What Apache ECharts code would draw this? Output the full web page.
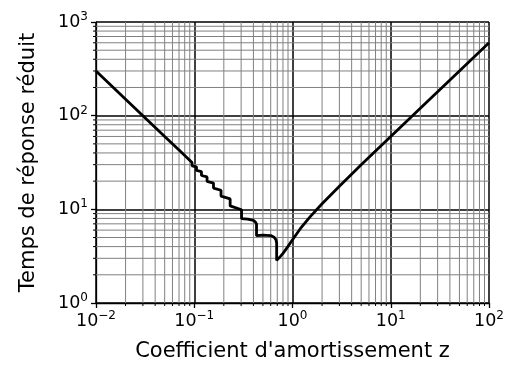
<!DOCTYPE html>
<html>
<head>
<meta charset="utf-8">
<script src="https://cdn.jsdelivr.net/npm/echarts@6/dist/echarts.min.js"></script>
<style>html,body{margin:0;padding:0;background:#fff}#c{width:515px;height:367px}</style>
</head>
<body>
<div id="c"></div>
<script>
// ---- data ----
const zValues = [0.01, 0.02, 0.03, 0.05, 0.07, 0.0949, 0.0949, 0.1054, 0.1054, 0.1184, 0.1184, 0.135, 0.135, 0.157, 0.157, 0.1873, 0.1873, 0.2319, 0.2319, 0.3029, 0.3029, 0.35, 0.40, 0.42, 0.4304, 0.4304, 0.45, 0.5, 0.6, 0.65, 0.68, 0.69, 0.69, 0.7, 0.75, 0.8, 0.9, 1, 1.2, 1.5, 2, 3, 5, 10, 20, 50, 100];
const tValues = [300, 150, 100, 60, 43, 31.56, 29.17, 28.43, 26.07, 25.31, 22.98, 22.2, 19.92, 19.09, 16.87, 15.99, 13.85, 12.92, 10.88, 9.89, 7.97, 7.88, 7.61, 7.32, 6.96, 5.23, 5.25, 5.3, 5.25, 5.03, 4.72, 4.34, 2.85, 2.9, 3.13, 3.39, 4.02, 4.74, 6.21, 8.26, 11.46, 17.63, 29.85, 59.81, 119.8, 299.6, 599];
const xExponents = ['\u22122', '\u22121', '0', '1', '2'];
const yExponents = ['0', '1', '2', '3'];
const minorMultipliers = [2, 3, 4, 5, 6, 7, 8, 9];
const xDecades = [0.01, 0.1, 1, 10];
const yDecades = [1, 10, 100];
const xName = "Coefficient d'amortissement z";
const yName = "Temps de réponse réduit";

const curve = zValues.map((z, i) => [z, tValues[i]]);
const minorX = [];
xDecades.forEach(d => minorMultipliers.forEach(m => minorX.push([d * m, 1])));
const minorY = [];
yDecades.forEach(d => minorMultipliers.forEach(m => minorY.push([0.01, d * m])));

const FONT = 'DejaVu Sans';
function expLabel(exps, v) {
  const e = Math.round(Math.log10(v));
  const idx = exps === xExponents ? e + 2 : e;
  return '{b|10}{s|' + exps[idx] + '}';
}
const rich = {
  b: {fontSize: 17.5, fontFamily: FONT, color: '#000', lineHeight: 22},
  s: {fontSize: 12, fontFamily: FONT, color: '#000', verticalAlign: 'top', lineHeight: 13, padding: [0, 0, 9, 0]}
};

const chart = echarts.init(document.getElementById('c'), null, {renderer: 'canvas'});
chart.setOption({
  animation: false,
  backgroundColor: '#fff',
  grid: {left: 96, right: 26, top: 22, bottom: 64, containLabel: false, outerBoundsMode: 'none'},
  xAxis: {
    type: 'log', logBase: 10, min: 0.01, max: 100,
    name: xName, nameLocation: 'middle', nameGap: 38,
    nameTextStyle: {fontSize: 21, fontFamily: FONT, color: '#000'},
    axisLine: {show: true, onZero: false, lineStyle: {color: '#000', width: 1.3}},
    axisTick: {show: true, inside: false, length: 5, lineStyle: {color: '#000', width: 1.3}},
    axisLabel: {margin: 7, formatter: v => expLabel(xExponents, v), rich: rich},
    splitLine: {show: true, lineStyle: {color: '#000', width: 1.5}},
    minorTick: {show: false}, minorSplitLine: {show: false}
  },
  yAxis: {
    type: 'log', logBase: 10, min: 1, max: 1000,
    name: yName, nameLocation: 'middle', nameGap: 57, nameRotate: 90,
    nameTextStyle: {fontSize: 21, fontFamily: FONT, color: '#000'},
    axisLine: {show: true, onZero: false, lineStyle: {color: '#000', width: 1.3}},
    axisTick: {show: true, inside: false, length: 5, lineStyle: {color: '#000', width: 1.3}},
    axisLabel: {margin: 8, formatter: v => expLabel(yExponents, v), rich: rich},
    splitLine: {show: true, lineStyle: {color: '#000', width: 1.5}},
    minorTick: {show: false}, minorSplitLine: {show: false}
  },
  series: [
    {
      type: 'custom', silent: true, z: 1, clip: false,
      data: minorX,
      renderItem: (params, api) => {
        const cs = params.coordSys;
        const x = api.coord([api.value(0), 1])[0];
        return {type: 'group', children: [
          {type: 'line', shape: {x1: x, y1: cs.y, x2: x, y2: cs.y + cs.height}, style: {stroke: '#808080', lineWidth: 1}},
          {type: 'line', shape: {x1: x, y1: cs.y + cs.height, x2: x, y2: cs.y + cs.height + 3}, style: {stroke: '#000', lineWidth: 1}}
        ]};
      }
    },
    {
      type: 'custom', silent: true, z: 1, clip: false,
      data: minorY,
      renderItem: (params, api) => {
        const cs = params.coordSys;
        const y = api.coord([0.01, api.value(1)])[1];
        return {type: 'group', children: [
          {type: 'line', shape: {x1: cs.x, y1: y, x2: cs.x + cs.width, y2: y}, style: {stroke: '#808080', lineWidth: 1}},
          {type: 'line', shape: {x1: cs.x - 3, y1: y, x2: cs.x, y2: y}, style: {stroke: '#000', lineWidth: 1}}
        ]};
      }
    },
    {
      type: 'line', data: curve, z: 5, showSymbol: false, symbol: 'none', smooth: false,
      lineStyle: {color: '#000', width: 2.8}, silent: true
    }
  ]
});
</script>
</body>
</html>
